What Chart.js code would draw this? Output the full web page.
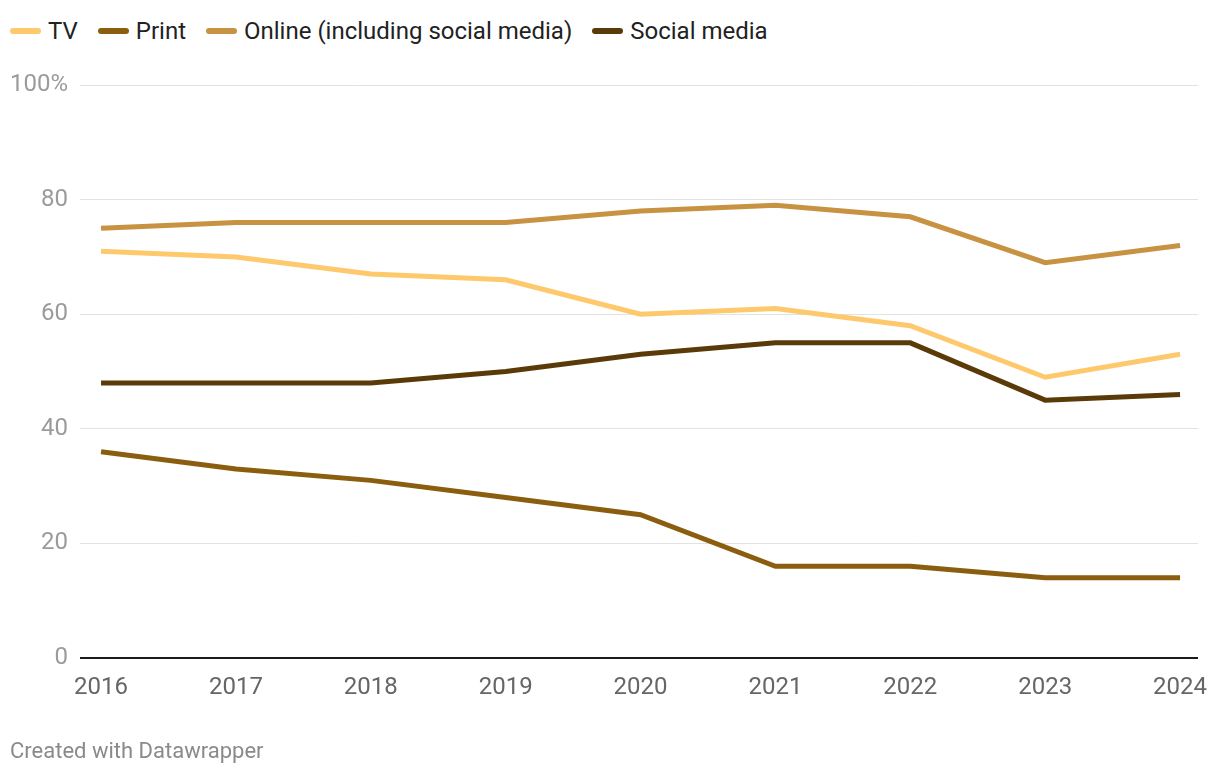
<!DOCTYPE html>
<html>
<head>
<meta charset="utf-8">
<script src="https://cdn.jsdelivr.net/npm/chart.js@4/dist/chart.umd.min.js"></script>
<style>
  html, body { margin: 0; padding: 0; background: #fff; }
  body { width: 1220px; height: 774px; position: relative; overflow: hidden; font-family: Roboto, sans-serif; }
  #chart { position: absolute; left: 0; top: 0; }
  .legend { position: absolute; left: 10px; top: 17px; display: flex; align-items: center; font-size: 24px; color: #222; }
  .legend .item { display: flex; align-items: center; margin-right: 20px; }
  .legend .swatch { width: 31px; height: 6px; border-radius: 3px; margin-right: 7px; }
  .footer { position: absolute; left: 10px; top: 738px; font-size: 22px; color: #8a8a8a; }
</style>
</head>
<body>
<div class="legend" id="legend"></div>
<canvas id="chart" width="1220" height="774"></canvas>
<div class="footer">Created with Datawrapper</div>
<script>
// ---------- data ----------
var years = [2016, 2017, 2018, 2019, 2020, 2021, 2022, 2023, 2024];
var tv = [71, 70, 67, 66, 60, 61, 58, 49, 53];
var print = [36, 33, 31, 28, 25, 16, 16, 14, 14];
var online = [75, 76, 76, 76, 78, 79, 77, 69, 72];
var social = [48, 48, 48, 50, 53, 55, 55, 45, 46];
var yTicks = [0, 20, 40, 60, 80, 100];

var seriesNames = ['TV', 'Print', 'Online (including social media)', 'Social media'];
var seriesColors = ['#fec96d', '#8a5e0e', '#c79241', '#5a3a09'];
var seriesValues = [tv, print, online, social];

function toPoints(values) {
  return values.map(function (v, i) { return { x: years[i], y: v }; });
}

// ---------- legend (html) ----------
var legendEl = document.getElementById('legend');
seriesNames.forEach(function (name, i) {
  var item = document.createElement('div');
  item.className = 'item';
  item.innerHTML = '<span class="swatch" style="background:' + seriesColors[i] + '"></span><span>' + name + '</span>';
  legendEl.appendChild(item);
});

// ---------- chart ----------
var datasets = seriesNames.map(function (name, i) {
  return {
    label: name,
    data: toPoints(seriesValues[i]),
    borderColor: seriesColors[i],
    backgroundColor: seriesColors[i],
    borderWidth: 5,
    pointRadius: 0,
    tension: 0,
    fill: false
  };
});

new Chart(document.getElementById('chart').getContext('2d'), {
  type: 'line',
  data: { datasets: datasets },
  options: {
    responsive: false,
    animation: false,
    layout: { padding: { top: 85, right: 22, left: 0, bottom: 0 } },
    plugins: { legend: { display: false }, tooltip: { enabled: false } },
    scales: {
      x: {
        type: 'linear',
        min: 2015.844,
        max: 2024.133,
        afterBuildTicks: function (scale) {
          scale.ticks = years.map(function (y) { return { value: y }; });
        },
        afterFit: function (scale) { scale.height = 116; },
        grid: { display: false },
        border: { display: false },
        ticks: {
          padding: 8,
          maxRotation: 0,
          autoSkip: false,
          color: '#666',
          font: { family: 'Roboto', size: 24 },
          callback: function (v) { return String(v); }
        }
      },
      y: {
        min: 0,
        max: 100,
        afterBuildTicks: function (scale) {
          scale.ticks = yTicks.map(function (v) { return { value: v }; });
        },
        afterFit: function (scale) { scale.width = 80; },
        border: { display: false },
        grid: {
          drawTicks: false,
          color: function (ctx) { return ctx.tick && ctx.tick.value === 0 ? '#1a1a1a' : '#e2e2e2'; },
          lineWidth: function (ctx) { return ctx.tick && ctx.tick.value === 0 ? 2 : 1; }
        },
        ticks: {
          padding: 12,
          color: '#9b9b9b',
          font: { family: 'Roboto', size: 24 },
          callback: function (v) { return v === 100 ? '100%' : String(v); }
        }
      }
    }
  }
});
</script>
</body>
</html>
